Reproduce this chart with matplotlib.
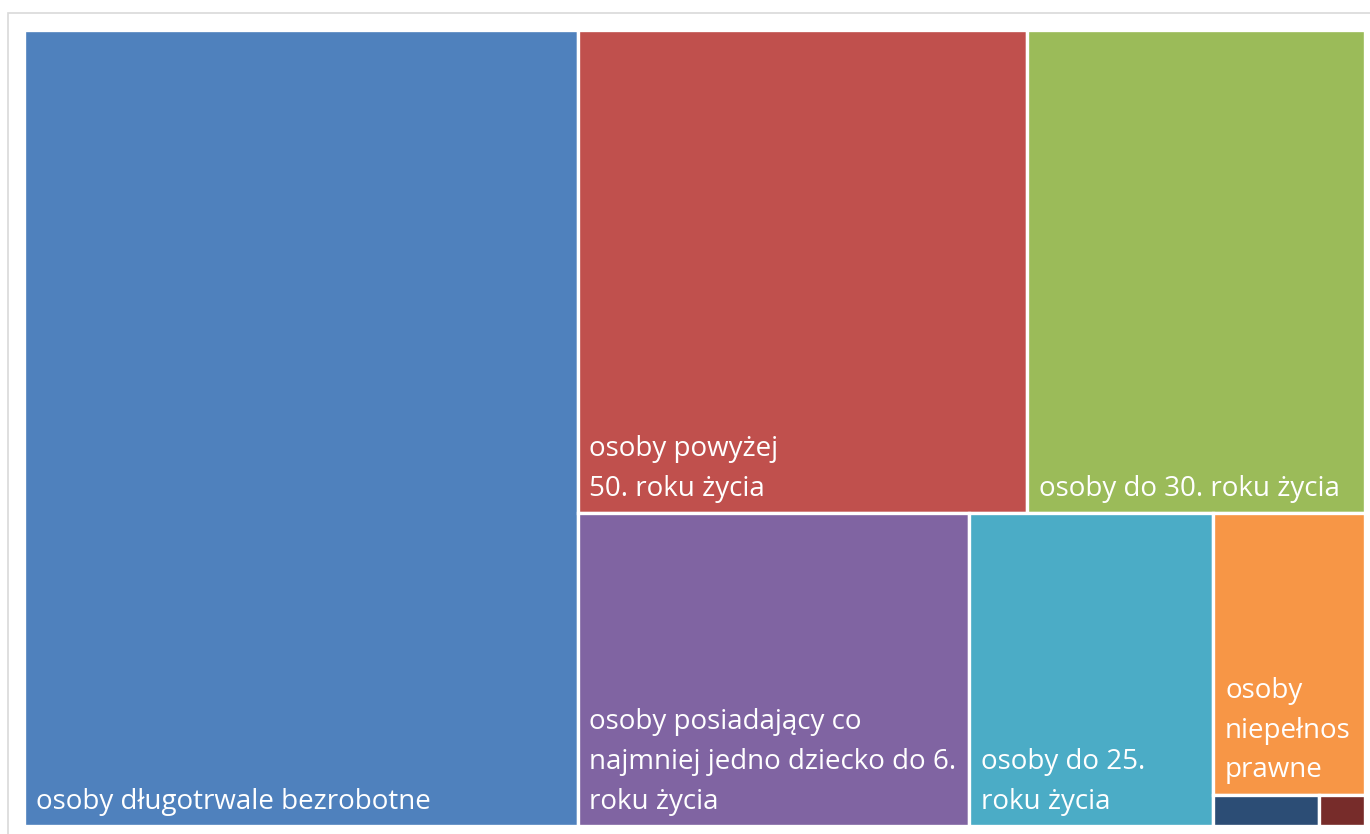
import matplotlib.pyplot as plt
from matplotlib.patches import Rectangle

# Treemap data (sizes, relative units)
labels = [
    'osoby długotrwale bezrobotne',
    'osoby powyżej\n50. roku życia',
    'osoby do 30. roku życia',
    'osoby posiadający co\nnajmniej jedno dziecko do 6.\nroku życia',
    'osoby do 25.\nroku życia',
    'osoby\nniepełnos\nprawne',
    'osoby korzystające ze świadczeń pomocy społecznej',
    'inne',
]
values = [440.0, 217.0, 163.0, 122.4, 76.4, 42.6, 3.3, 1.4]
colors = ['#4F81BD', '#C0504D', '#9BBB59', '#8064A2', '#4BACC6',
          '#F79646', '#2C4D75', '#772C2A']


def worst(row, side):
    s = sum(row)
    return max(max(side * side * r / (s * s), s * s / (side * side * r)) for r in row)


def squarify(sizes, x, y, w, h):
    # standard squarified layout, sizes already scaled to area w*h
    rects = []
    sizes = list(sizes)
    while sizes:
        side = min(w, h)
        row = [sizes.pop(0)]
        while sizes and worst(row + [sizes[0]], side) <= worst(row, side):
            row.append(sizes.pop(0))
        s = sum(row)
        if w >= h:
            rw = s / h
            yy = y
            for r in row:
                rects.append((x, yy, rw, r / rw))
                yy += r / rw
            x += rw
            w -= rw
        else:
            rh = s / w
            xx = x
            for r in row:
                rects.append((xx, y, r / rh, rh))
                xx += r / rh
            y += rh
            h -= rh
    return rects


W, H = 1339.0, 796.0
total = sum(values)
areas = [v * W * H / total for v in values]
rects = squarify(areas, 0, 0, W, H)

fig = plt.figure(figsize=(13.7, 8.34), dpi=100)

# light chart-area border (cut off at right and bottom as in the source)
fig.patches.append(Rectangle((8 / 1370, -0.1), 1.2, 1.1 - 13 / 834,
                             transform=fig.transFigure, fill=False,
                             edgecolor='#D9D9D9', linewidth=1.2))

ax = fig.add_axes([24.5 / 1370, 8 / 834, 1340 / 1370, 796 / 834])
ax.set_xlim(0, W)
ax.set_ylim(H, 0)
ax.axis('off')

for (x, y, w, h), lab, col in zip(rects, labels, colors):
    ax.add_patch(Rectangle((x, y), w, h, facecolor=col, edgecolor='white',
                           linewidth=2.4))
    if h > 60:
        ax.annotate(lab, xy=(x, y + h), xytext=(8.5, 7.5), textcoords='offset points',
                    ha='left', va='bottom', color='white', fontsize=20,
                    family='Open Sans', linespacing=1.55)

fig.savefig('out.png', dpi=100)
